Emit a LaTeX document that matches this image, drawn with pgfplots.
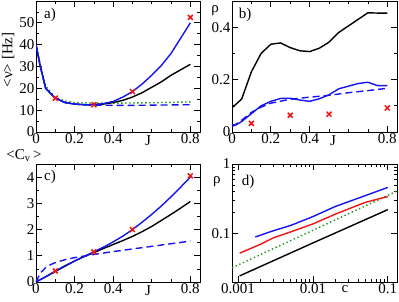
\documentclass[border=0pt]{standalone}
\usepackage{fontspec}
\setmainfont{Liberation Serif}
\usepackage{pgfplots}
\pgfplotsset{compat=1.18}
\definecolor{myblue}{RGB}{20,20,240}
\definecolor{myred}{RGB}{240,20,20}
\definecolor{mygreen}{RGB}{30,150,30}
\tikzset{plab/.style={font=\fontsize{15}{17}\selectfont}}
\pgfplotsset{
  every axis/.append style={
    scale only axis,
    /pgf/number format/assume math mode=true,
    tick label style={font=\fontsize{15}{17}\selectfont, inner sep=1.5pt},
    label style={font=\fontsize{15}{17}\selectfont},
    tick align=inside,
    major tick length=6pt,
    minor tick length=3pt,
    tick style={black, line width=0.7pt},
    axis line style={line width=0.8pt},
    clip=true,
  },
  bl/.style={black, line width=1.4pt, no markers},
  bu/.style={myblue, line width=1.4pt, no markers},
  bud/.style={myblue, line width=1.4pt, no markers, dash pattern=on 7pt off 4pt},
  gr/.style={mygreen, line width=1.4pt, no markers, dash pattern=on 1.4pt off 2.6pt},
  rx/.style={myred, only marks, mark=x, mark size=3.5pt, mark options={line width=1.5pt}},
}
\begin{document}
\begin{tikzpicture}[x=1pt,y=1pt]
\useasboundingbox (0,0) rectangle (399,-301);
% ---------- a)
\begin{axis}[at={(36pt,-132pt)}, anchor=south west, width=164pt, height=131pt,
  xmin=0, xmax=0.85, ymin=0, ymax=60,
  xtick={0,0.2,0.4,0.8}, xticklabels={0,0.2,0.4,0.8},
  minor xtick={0.1,0.3,0.5,0.6,0.7},
  ytick={0,10,20,30,40,50}, minor ytick={5,15,25,35,45,55},
  xlabel={J}, xlabel style={at={(axis description cs:0.683,-0.025)}, anchor=north, inner sep=0pt},
  ylabel={<ν> [Hz]}, ylabel style={at={(axis description cs:-0.17,0.55)}, anchor=center},
]
\addplot[gr] coordinates {(0,40) (0.02,32) (0.05,21) (0.1,16) (0.15,14.2) (0.2,13.5) (0.3,13.2) (0.4,13.2) (0.5,13.3) (0.6,13.4) (0.7,13.6) (0.8,13.8)};
\addplot[bl] coordinates {(0,40) (0.02,31) (0.05,20) (0.1,15.5) (0.15,13.5) (0.2,12.8) (0.25,12.5) (0.3,12.5) (0.35,12.8) (0.4,13.5) (0.45,14.5) (0.5,16) (0.55,18) (0.6,20.5) (0.65,23) (0.7,26) (0.75,28.5) (0.8,31)};
\addplot[bud] coordinates {(0,40) (0.02,31) (0.05,20) (0.1,15.5) (0.15,13.5) (0.2,12.8) (0.25,12.4) (0.3,12.3) (0.35,12.3) (0.4,12.2) (0.5,12.2) (0.6,12.3) (0.7,12.4) (0.8,12.5)};
\addplot[bu] coordinates {(0,40) (0.02,31) (0.05,20) (0.1,15.5) (0.15,13.5) (0.2,12.8) (0.25,12.5) (0.3,12.5) (0.35,13) (0.4,14) (0.45,16) (0.5,18.5) (0.55,22) (0.6,26) (0.65,30.5) (0.7,36) (0.75,43) (0.8,50)};
\addplot[rx] coordinates {(0.1,15.5) (0.3,12.5) (0.5,18.5) (0.8,52.5)};
\node[plab] at (axis description cs:0.085,0.893) {a)};
\end{axis}
% ---------- b)
\begin{axis}[at={(232pt,-132pt)}, anchor=south west, width=165pt, height=131pt,
  xmin=0, xmax=0.85, ymin=0, ymax=0.5,
  xtick={0,0.2,0.4,0.8}, xticklabels={0,0.2,0.4,0.8},
  minor xtick={0.1,0.3,0.5,0.6,0.7},
  ytick={0,0.2,0.4}, yticklabels={0,0.2,0.4}, minor ytick={0.1,0.3},
  xlabel={J}, xlabel style={at={(axis description cs:0.612,-0.025)}, anchor=north, inner sep=0pt},
  ylabel={ρ}, ylabel style={rotate=-90, at={(axis description cs:-0.103,0.924)}, anchor=center},
]
\addplot[bl] coordinates {(0,0.092) (0.05,0.126) (0.1,0.23) (0.15,0.3) (0.2,0.335) (0.25,0.34) (0.3,0.322) (0.35,0.31) (0.4,0.307) (0.45,0.32) (0.5,0.343) (0.55,0.38) (0.6,0.405) (0.65,0.43) (0.7,0.455) (0.75,0.454) (0.8,0.454)};
\addplot[bud] coordinates {(0,0.02) (0.05,0.045) (0.1,0.075) (0.15,0.095) (0.2,0.11) (0.3,0.125) (0.4,0.133) (0.5,0.14) (0.6,0.15) (0.7,0.158) (0.8,0.167)};
\addplot[bu] coordinates {(0,0.027) (0.02,0.027) (0.05,0.04) (0.1,0.07) (0.15,0.1) (0.2,0.117) (0.25,0.128) (0.3,0.129) (0.35,0.122) (0.4,0.117) (0.45,0.127) (0.5,0.142) (0.55,0.165) (0.6,0.175) (0.65,0.185) (0.7,0.19) (0.75,0.177) (0.8,0.177)};
\addplot[rx] coordinates {(0.1,0.033) (0.3,0.064) (0.5,0.068) (0.8,0.092)};
\node[plab] at (axis description cs:0.079,0.893) {b)};
\end{axis}
% ---------- c)
\begin{axis}[at={(36pt,-282pt)}, anchor=south west, width=164pt, height=118pt,
  xmin=0, xmax=0.85, ymin=0, ymax=4.5,
  xtick={0,0.2,0.4,0.8}, xticklabels={0,0.2,0.4,0.8},
  minor xtick={0.1,0.3,0.5,0.6,0.7},
  ytick={0,1,2,3,4}, minor ytick={0.5,1.5,2.5,3.5},
  xlabel={J}, xlabel style={at={(axis description cs:0.683,-0.03)}, anchor=north, inner sep=0pt},
  ylabel={{<}C\textsubscript{v}\,{>}}, ylabel style={rotate=-90, at={(axis description cs:-0.073,1.07)}, anchor=center},
]
\addplot[bl] coordinates {(0,0) (0.05,0.2) (0.1,0.4) (0.15,0.6) (0.2,0.8) (0.25,0.97) (0.3,1.12) (0.35,1.28) (0.4,1.43) (0.45,1.58) (0.5,1.74) (0.55,1.92) (0.6,2.12) (0.65,2.35) (0.7,2.58) (0.75,2.82) (0.8,3.07)};
\addplot[bud] coordinates {(0,0) (0.01,0.15) (0.02,0.3) (0.03,0.4) (0.05,0.55) (0.075,0.66) (0.1,0.74) (0.15,0.85) (0.2,0.93) (0.25,0.99) (0.3,1.05) (0.4,1.16) (0.5,1.26) (0.6,1.36) (0.7,1.46) (0.8,1.56)};
\addplot[bu] coordinates {(0,0) (0.05,0.2) (0.1,0.42) (0.15,0.62) (0.2,0.8) (0.25,0.98) (0.3,1.15) (0.35,1.33) (0.4,1.53) (0.45,1.75) (0.5,2.0) (0.55,2.28) (0.6,2.58) (0.65,2.9) (0.7,3.25) (0.75,3.62) (0.8,4.0)};
\addplot[rx] coordinates {(0.1,0.42) (0.3,1.15) (0.5,2.0) (0.8,4.05)};
\node[plab] at (axis description cs:0.085,0.89) {c)};
\end{axis}
% ---------- d)
\begin{axis}[at={(232pt,-282pt)}, anchor=south west, width=165pt, height=118pt,
  xmode=log, ymode=log,
  xmin=0.00083, xmax=0.133, ymin=0.02, ymax=1,
  xtick={0.001,0.01,0.1}, xticklabels={0.001,0.01,0.1},
  ytick={0.1,1}, yticklabels={0.1,1},
  xlabel={c}, xlabel style={at={(axis description cs:0.685,-0.03)}, anchor=north, inner sep=0pt},
  ylabel={ρ}, ylabel style={rotate=-90, at={(axis description cs:-0.091,0.847)}, anchor=center},
]
\addplot[bl] coordinates {(0.00105,0.0245) (0.01,0.073) (0.1,0.22)};
\addplot[gr] coordinates {(0.00083,0.032) (0.001,0.0352) (0.01,0.111) (0.1,0.352) (0.133,0.41)};
\addplot[myred, line width=1.4pt, no markers] coordinates {(0.00105,0.052) (0.002,0.07) (0.003,0.087) (0.005,0.105) (0.01,0.137) (0.02,0.19) (0.05,0.28) (0.1,0.34)};
\addplot[bu] coordinates {(0.0017,0.089) (0.003,0.11) (0.005,0.13) (0.01,0.175) (0.02,0.245) (0.05,0.35) (0.1,0.46)};
\node[plab] at (axis description cs:0.097,0.847) {d)};
\end{axis}
\end{tikzpicture}
\end{document}
